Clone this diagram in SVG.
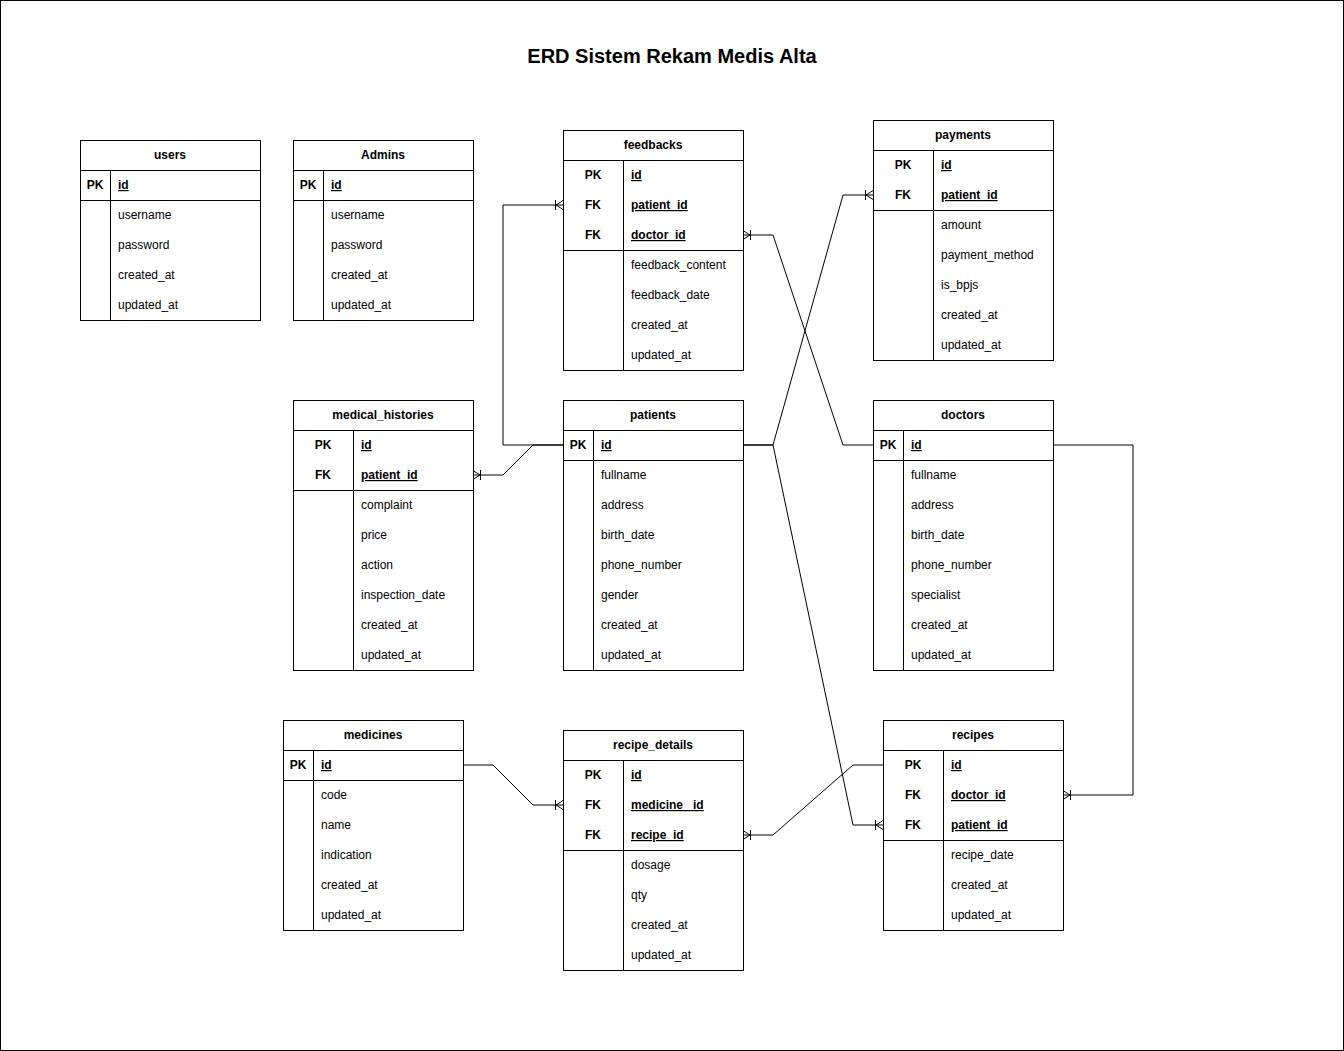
<svg xmlns="http://www.w3.org/2000/svg" width="1344" height="1051" viewBox="0 0 1344 1051">
<style>
.box{fill:#fff;stroke:#000;stroke-width:1}
.ln{stroke:#000;stroke-width:1;fill:none}
text{font-family:"Liberation Sans",Arial,sans-serif;font-size:12px;fill:#000}
.h{font-weight:bold;text-anchor:middle}
.k{font-weight:bold;text-anchor:middle}
.kf{font-weight:bold;text-decoration:underline}
.title{font-size:20px;font-weight:bold;text-anchor:middle}
.conn{stroke:#000;stroke-width:1;fill:none;marker-end:url(#many)}
</style>
<defs>
<marker id="many" viewBox="-12 -7 14 14" refX="0" refY="0" markerWidth="14" markerHeight="14" markerUnits="userSpaceOnUse" orient="auto" overflow="visible">
<path d="M0 -4.5 L-7 0 L0 4.5 M-7.5 -5 L-7.5 5" fill="none" stroke="#000" stroke-width="1"/>
</marker>
</defs>
<rect x="0.5" y="0.5" width="1343" height="1050" fill="#fff" stroke="#000"/>
<text class="title" x="672" y="63">ERD Sistem Rekam Medis Alta</text>

<g id="connectors">
<path class="conn" d="M563 445 L503 445 L503 205 L563 205"/>
<path class="conn" d="M563 445 L533 445 L503 475 L473 475"/>
<path class="conn" d="M873 445 L843 445 L773 235 L743 235"/>
<path class="conn" d="M743 445 L773 445 L843 195 L873 195"/>
<path class="conn" d="M743 445 L773 445 L853 825 L883 825"/>
<path class="conn" d="M883 765 L853 765 L773 835 L743 835"/>
<path class="conn" d="M463 765 L493 765 L533 805 L563 805"/>
<path class="conn" d="M1053 445 L1133 445 L1133 795 L1063 795"/>
</g>

<g id="users">
<rect class="box" x="80.5" y="140.5" width="180" height="180"/>
<path class="ln" d="M80.5 170.5 H260.5 M80.5 200.5 H260.5 M110.5 170.5 V320.5"/>
<text class="h" x="170" y="159">users</text>
<text class="k" x="95" y="189">PK</text>
<text class="kf" x="118" y="189">id</text>
<text x="118" y="219">username</text>
<text x="118" y="249">password</text>
<text x="118" y="279">created_at</text>
<text x="118" y="309">updated_at</text>
</g>

<g id="admins">
<rect class="box" x="293.5" y="140.5" width="180" height="180"/>
<path class="ln" d="M293.5 170.5 H473.5 M293.5 200.5 H473.5 M323.5 170.5 V320.5"/>
<text class="h" x="383" y="159">Admins</text>
<text class="k" x="308" y="189">PK</text>
<text class="kf" x="331" y="189">id</text>
<text x="331" y="219">username</text>
<text x="331" y="249">password</text>
<text x="331" y="279">created_at</text>
<text x="331" y="309">updated_at</text>
</g>

<g id="feedbacks">
<rect class="box" x="563.5" y="130.5" width="180" height="240"/>
<path class="ln" d="M563.5 160.5 H743.5 M563.5 250.5 H743.5 M623.5 160.5 V370.5"/>
<text class="h" x="653" y="149">feedbacks</text>
<text class="k" x="593" y="179">PK</text>
<text class="kf" x="631" y="179">id</text>
<text class="k" x="593" y="209">FK</text>
<text class="kf" x="631" y="209">patient_id</text>
<text class="k" x="593" y="239">FK</text>
<text class="kf" x="631" y="239">doctor_id</text>
<text x="631" y="269">feedback_content</text>
<text x="631" y="299">feedback_date</text>
<text x="631" y="329">created_at</text>
<text x="631" y="359">updated_at</text>
</g>

<g id="payments">
<rect class="box" x="873.5" y="120.5" width="180" height="240"/>
<path class="ln" d="M873.5 150.5 H1053.5 M873.5 210.5 H1053.5 M933.5 150.5 V360.5"/>
<text class="h" x="963" y="139">payments</text>
<text class="k" x="903" y="169">PK</text>
<text class="kf" x="941" y="169">id</text>
<text class="k" x="903" y="199">FK</text>
<text class="kf" x="941" y="199">patient_id</text>
<text x="941" y="229">amount</text>
<text x="941" y="259">payment_method</text>
<text x="941" y="289">is_bpjs</text>
<text x="941" y="319">created_at</text>
<text x="941" y="349">updated_at</text>
</g>

<g id="medical_histories">
<rect class="box" x="293.5" y="400.5" width="180" height="270"/>
<path class="ln" d="M293.5 430.5 H473.5 M293.5 490.5 H473.5 M353.5 430.5 V670.5"/>
<text class="h" x="383" y="419">medical_histories</text>
<text class="k" x="323" y="449">PK</text>
<text class="kf" x="361" y="449">id</text>
<text class="k" x="323" y="479">FK</text>
<text class="kf" x="361" y="479">patient_id</text>
<text x="361" y="509">complaint</text>
<text x="361" y="539">price</text>
<text x="361" y="569">action</text>
<text x="361" y="599">inspection_date</text>
<text x="361" y="629">created_at</text>
<text x="361" y="659">updated_at</text>
</g>

<g id="patients">
<rect class="box" x="563.5" y="400.5" width="180" height="270"/>
<path class="ln" d="M563.5 430.5 H743.5 M563.5 460.5 H743.5 M593.5 430.5 V670.5"/>
<text class="h" x="653" y="419">patients</text>
<text class="k" x="578" y="449">PK</text>
<text class="kf" x="601" y="449">id</text>
<text x="601" y="479">fullname</text>
<text x="601" y="509">address</text>
<text x="601" y="539">birth_date</text>
<text x="601" y="569">phone_number</text>
<text x="601" y="599">gender</text>
<text x="601" y="629">created_at</text>
<text x="601" y="659">updated_at</text>
</g>

<g id="doctors">
<rect class="box" x="873.5" y="400.5" width="180" height="270"/>
<path class="ln" d="M873.5 430.5 H1053.5 M873.5 460.5 H1053.5 M903.5 430.5 V670.5"/>
<text class="h" x="963" y="419">doctors</text>
<text class="k" x="888" y="449">PK</text>
<text class="kf" x="911" y="449">id</text>
<text x="911" y="479">fullname</text>
<text x="911" y="509">address</text>
<text x="911" y="539">birth_date</text>
<text x="911" y="569">phone_number</text>
<text x="911" y="599">specialist</text>
<text x="911" y="629">created_at</text>
<text x="911" y="659">updated_at</text>
</g>

<g id="medicines">
<rect class="box" x="283.5" y="720.5" width="180" height="210"/>
<path class="ln" d="M283.5 750.5 H463.5 M283.5 780.5 H463.5 M313.5 750.5 V930.5"/>
<text class="h" x="373" y="739">medicines</text>
<text class="k" x="298" y="769">PK</text>
<text class="kf" x="321" y="769">id</text>
<text x="321" y="799">code</text>
<text x="321" y="829">name</text>
<text x="321" y="859">indication</text>
<text x="321" y="889">created_at</text>
<text x="321" y="919">updated_at</text>
</g>

<g id="recipe_details">
<rect class="box" x="563.5" y="730.5" width="180" height="240"/>
<path class="ln" d="M563.5 760.5 H743.5 M563.5 850.5 H743.5 M623.5 760.5 V970.5"/>
<text class="h" x="653" y="749">recipe_details</text>
<text class="k" x="593" y="779">PK</text>
<text class="kf" x="631" y="779">id</text>
<text class="k" x="593" y="809">FK</text>
<text class="kf" x="631" y="809" xml:space="preserve">medicine_ id</text>
<text class="k" x="593" y="839">FK</text>
<text class="kf" x="631" y="839">recipe_id</text>
<text x="631" y="869">dosage</text>
<text x="631" y="899">qty</text>
<text x="631" y="929">created_at</text>
<text x="631" y="959">updated_at</text>
</g>

<g id="recipes">
<rect class="box" x="883.5" y="720.5" width="180" height="210"/>
<path class="ln" d="M883.5 750.5 H1063.5 M883.5 840.5 H1063.5 M943.5 750.5 V930.5"/>
<text class="h" x="973" y="739">recipes</text>
<text class="k" x="913" y="769">PK</text>
<text class="kf" x="951" y="769">id</text>
<text class="k" x="913" y="799">FK</text>
<text class="kf" x="951" y="799">doctor_id</text>
<text class="k" x="913" y="829">FK</text>
<text class="kf" x="951" y="829">patient_id</text>
<text x="951" y="859">recipe_date</text>
<text x="951" y="889">created_at</text>
<text x="951" y="919">updated_at</text>
</g>
</svg>
